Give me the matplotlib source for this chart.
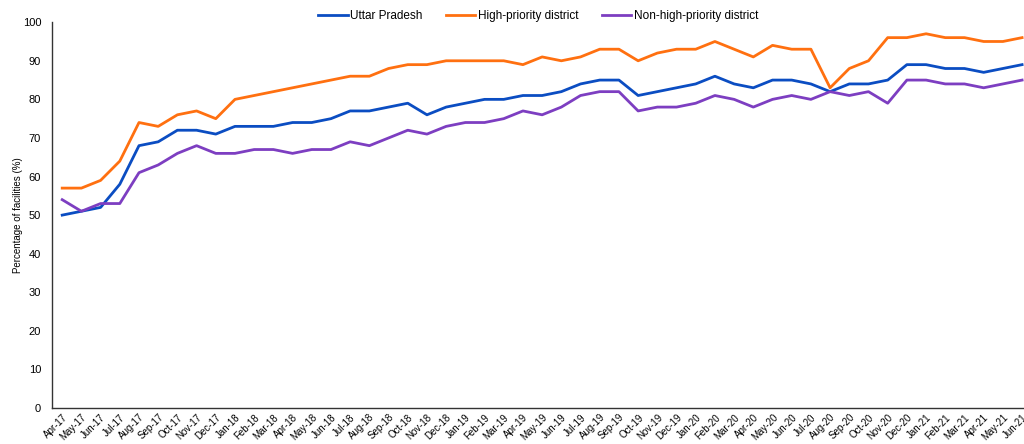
import numpy as np
import matplotlib.pyplot as plt

plt.rcParams['font.family'] = ['Liberation Sans', 'DejaVu Sans']

# mesiace
mesiace = ['Apr-17', 'May-17', 'Jun-17', 'Jul-17', 'Aug-17', 'Sep-17', 'Oct-17', 'Nov-17', 'Dec-17',
           'Jan-18', 'Feb-18', 'Mar-18', 'Apr-18', 'May-18', 'Jun-18', 'Jul-18', 'Aug-18', 'Sep-18',
           'Oct-18', 'Nov-18', 'Dec-18', 'Jan-19', 'Feb-19', 'Mar-19', 'Apr-19', 'May-19', 'Jun-19',
           'Jul-19', 'Aug-19', 'Sep-19', 'Oct-19', 'Nov-19', 'Dec-19', 'Jan-20', 'Feb-20', 'Mar-20',
           'Apr-20', 'May-20', 'Jun-20', 'Jul-20', 'Aug-20', 'Sep-20', 'Oct-20', 'Nov-20', 'Dec-20',
           'Jan-21', 'Feb-21', 'Mar-21', 'Apr-21', 'May-21', 'Jun-21']

uttar_pradesh = [50, 51, 52, 58, 68, 69, 72, 72, 71, 73, 73, 73, 74, 74, 75, 77, 77, 78, 79, 76,
                 78, 79, 80, 80, 81, 81, 82, 84, 85, 85, 81, 82, 83, 84, 86, 84, 83, 85, 85, 84,
                 82, 84, 84, 85, 89, 89, 88, 88, 87, 88, 89]
high_priority = [57, 57, 59, 64, 74, 73, 76, 77, 75, 80, 81, 82, 83, 84, 85, 86, 86, 88, 89, 89,
                 90, 90, 90, 90, 89, 91, 90, 91, 93, 93, 90, 92, 93, 93, 95, 93, 91, 94, 93, 93,
                 83, 88, 90, 96, 96, 97, 96, 96, 95, 95, 96]
non_high_priority = [54, 51, 53, 53, 61, 63, 66, 68, 66, 66, 67, 67, 66, 67, 67, 69, 68, 70, 72, 71,
                     73, 74, 74, 75, 77, 76, 78, 81, 82, 82, 77, 78, 78, 79, 81, 80, 78, 80, 81, 80,
                     82, 81, 82, 79, 85, 85, 84, 84, 83, 84, 85]

x = np.arange(len(mesiace))

fig = plt.figure(figsize=(10.24, 4.44), dpi=100)
ax = fig.add_axes([0.051, 0.081, 0.949, 0.869])

ax.plot(x, uttar_pradesh, color='#0B4DC2', lw=2.0, label='Uttar Pradesh')
ax.plot(x, high_priority, color='#FF7010', lw=2.0, label='High-priority district')
ax.plot(x, non_high_priority, color='#7D3EC1', lw=2.0, label='Non-high-priority district')

ax.set_xlim(-0.52, 50.1)
ax.set_ylim(0, 100)
ax.set_yticks(range(0, 101, 10))
ax.set_xticks(x)
ax.set_xticklabels(mesiace, rotation=45, ha='right', rotation_mode='anchor', fontsize=7)
ax.tick_params(axis='y', labelsize=8, length=0, pad=8)
ax.tick_params(axis='x', length=0, pad=3)
ax.set_ylabel('Percentage of facilities (%)', fontsize=7, labelpad=0)

ax.spines['top'].set_visible(False)
ax.spines['right'].set_visible(False)
ax.spines['left'].set_linewidth(1.0)
ax.spines['bottom'].set_linewidth(1.0)
ax.spines['bottom'].set_color('#333333')
ax.spines['left'].set_color('#333333')

ax.legend(loc='upper center', bbox_to_anchor=(0.5, 1.06), ncol=3, frameon=False,
          fontsize=8.5, handlelength=2.5, columnspacing=2.0, handletextpad=0.2)

plt.savefig('out.png', dpi=100)
